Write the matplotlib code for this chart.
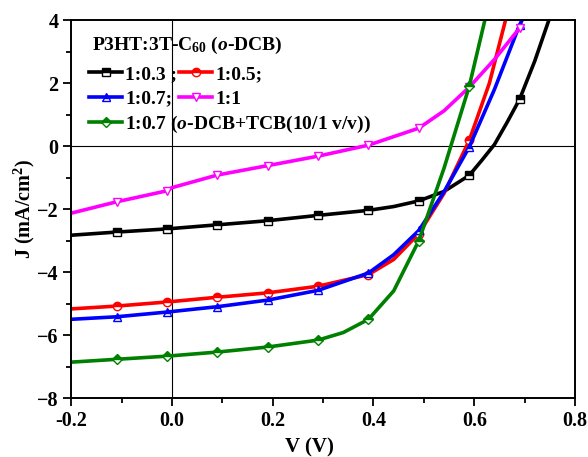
import matplotlib
matplotlib.use("Agg")
import matplotlib.pyplot as plt
from matplotlib.ticker import MultipleLocator, FormatStrFormatter

plt.rcParams['font.family'] = ['Liberation Serif', 'DejaVu Serif']
plt.rcParams['font.weight'] = 'bold'
plt.rcParams['mathtext.fontset'] = 'custom'
plt.rcParams['mathtext.rm'] = 'Liberation Serif:bold'
plt.rcParams['mathtext.it'] = 'Liberation Serif:italic:bold'
plt.rcParams['mathtext.bf'] = 'Liberation Serif:bold'

# J-V curves (V in volts, J in mA/cm2)
v_03 = [-0.2, -0.11, -0.01, 0.09, 0.19, 0.29, 0.39, 0.44, 0.49, 0.54, 0.59, 0.615, 0.64, 0.665, 0.69, 0.72, 0.748]
j_03 = [-2.83, -2.73, -2.63, -2.5, -2.37, -2.2, -2.04, -1.92, -1.74, -1.44, -0.93, -0.45, 0.05, 0.75, 1.49, 2.7, 4.0]
m_03 = [1, 2, 3, 4, 5, 6, 8, 10, 14]

v_05 = [-0.2, -0.11, -0.01, 0.09, 0.19, 0.29, 0.39, 0.44, 0.49, 0.54, 0.59, 0.63, 0.662]
j_05 = [-5.17, -5.08, -4.95, -4.8, -4.66, -4.45, -4.08, -3.6, -2.78, -1.5, 0.18, 2.0, 4.0]
m_05 = [1, 2, 3, 4, 5, 6, 8, 10]

v_07 = [-0.2, -0.11, -0.01, 0.09, 0.19, 0.29, 0.39, 0.44, 0.49, 0.54, 0.59, 0.64, 0.69, 0.695]
j_07 = [-5.5, -5.42, -5.27, -5.1, -4.89, -4.58, -4.03, -3.45, -2.68, -1.45, -0.03, 1.8, 3.85, 4.0]
m_07 = [1, 2, 3, 4, 5, 6, 8, 10, 12]

v_11 = [-0.2, -0.11, -0.01, 0.0, 0.09, 0.19, 0.29, 0.39, 0.49, 0.54, 0.59, 0.64, 0.69]
j_11 = [-2.13, -1.77, -1.42, -1.32, -0.92, -0.62, -0.32, 0.03, 0.57, 1.12, 1.87, 2.75, 3.75]
m_11 = [1, 2, 4, 5, 6, 7, 8, 10, 12]

v_tcb = [-0.2, -0.11, -0.01, 0.09, 0.19, 0.29, 0.34, 0.39, 0.44, 0.49, 0.54, 0.59, 0.621]
j_tcb = [-6.86, -6.77, -6.67, -6.54, -6.38, -6.16, -5.92, -5.5, -4.6, -3.0, -0.7, 1.9, 4.0]
m_tcb = [1, 2, 3, 4, 5, 7, 9, 11]

fig = plt.figure(figsize=(5.88, 4.57), dpi=100)
ax = fig.add_axes([0.121, 0.129, 0.857, 0.827])

ax.axhline(0, color='black', lw=0.8, zorder=1)
ax.axvline(0, color='black', lw=0.8, zorder=1)

half = dict(lw=2.6, ms=6, mew=1.0, fillstyle='top', markerfacecoloralt='white')
l03, = ax.plot(v_03, j_03, color='black', marker='s', markevery=m_03,
               markeredgecolor='black', markerfacecolor='black', **half)
l05, = ax.plot(v_05, j_05, color='#ff0000', marker='o', markevery=m_05,
               markeredgecolor='#ff0000', markerfacecolor='#ff0000', **half)
l07, = ax.plot(v_07, j_07, color='#0000ff', marker='^', markevery=m_07,
               markeredgecolor='#0000ff', markerfacecolor='#0000ff', **half)
l11, = ax.plot(v_11, j_11, color='#ff00ff', marker='v', markevery=m_11, lw=2.6, ms=6,
               mew=1.0, markeredgecolor='#ff00ff', markerfacecolor='white')
ltcb, = ax.plot(v_tcb, j_tcb, color='#008000', marker='D', markevery=m_tcb,
                markeredgecolor='#008000', markerfacecolor='#008000',
                lw=2.6, ms=5.2, mew=1.0, fillstyle='top', markerfacecoloralt='white')

ax.set_xlim(-0.2, 0.8)
ax.set_ylim(-8, 4)
ax.xaxis.set_major_locator(MultipleLocator(0.2))
ax.xaxis.set_minor_locator(MultipleLocator(0.1))
ax.yaxis.set_major_locator(MultipleLocator(2))
ax.yaxis.set_minor_locator(MultipleLocator(1))
ax.xaxis.set_major_formatter(FormatStrFormatter('%.1f'))
ax.tick_params(which='both', direction='out', width=1.3, labelsize=14.5, pad=3)
ax.tick_params(which='major', length=6)
ax.tick_params(which='minor', length=3.5)
for s in ax.spines.values():
    s.set_linewidth(1.4)

ax.set_xlabel('V (V)', fontsize=15, fontweight='bold')
ax.xaxis.set_label_coords(0.472, -0.105)
ax.set_ylabel('J (mA/cm$^2$)', fontsize=14.5, fontweight='bold', labelpad=0)

# legend title drawn as plain text so its gap to the rows can be set
ax.text(0.042, 0.934, 'P3HT:3T-C$_{60}$ ($o$-DCB)', transform=ax.transAxes,
        fontsize=14, fontweight='bold', va='center', ha='left')

leg1 = ax.legend([l03, l07, l05, l11], ['1:0.3 ;', '1:0.7;', '1:0.5;', '1:1'],
                 ncol=2, loc='upper left', bbox_to_anchor=(0.036, 0.88), frameon=False,
                 prop={'size': 14, 'weight': 'bold'},
                 handlelength=1.7, handletextpad=0.15, columnspacing=0.1,
                 labelspacing=0.36, borderaxespad=0, borderpad=0)
ax.add_artist(leg1)
ax.legend([ltcb], ['1:0.7 ($o$-DCB+TCB(10/1 v/v))'], loc='upper left',
          bbox_to_anchor=(0.036, 0.752), frameon=False,
          prop={'size': 14, 'weight': 'bold'},
          handlelength=1.7, handletextpad=0.15, borderaxespad=0, borderpad=0)

fig.savefig('out.png', dpi=100)
